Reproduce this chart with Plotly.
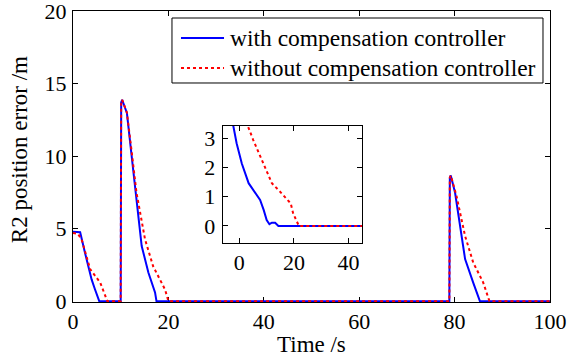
import plotly.graph_objects as go

# ---- main data ----
t_with = [0, 1.5, 2.5, 3.9, 4.6, 5.5, 10.0, 10.1, 10.3, 11.3, 12.3, 13.7, 14.4, 15.8, 17.2, 17.5,
          78.9, 79.0, 79.2, 80.1, 81.1, 82.2, 83.9, 85.0, 85.3, 100]
e_with = [4.79, 4.75, 3.35, 1.5, 0.82, 0, 0, 13.7, 13.88, 12.97, 10.0, 6.1, 3.8, 1.97, 0.6, 0,
          0, 8.5, 8.66, 7.47, 5.17, 2.9, 1.28, 0.36, 0, 0]
t_without = [0, 1.0, 1.8, 3.6, 5.7, 6.7, 7.2, 10.0, 10.1, 10.3, 11.3, 12.3, 13.3, 15.1, 16.8, 19.3, 20.0,
             78.9, 79.0, 79.2, 80.4, 82.2, 83.9, 86.0, 87.1, 87.3, 100]
e_without = [4.7, 4.65, 4.26, 2.2, 1.28, 0.36, 0, 0, 13.7, 13.88, 13.0, 10.3, 7.5, 4.26, 2.4, 0.8, 0,
             0, 8.5, 8.66, 7.24, 4.49, 2.66, 1.28, 0.25, 0, 0]

# ---- inset data ----
ti_with = [-6, -2.2, -1.0, 0.9, 3.4, 5.8, 7.6, 8.9, 10.0, 11.0, 11.9, 13.1, 14.3, 45]
ei_with = [4.6, 3.41, 2.82, 2.13, 1.46, 1.12, 0.89, 0.55, 0.2, 0.06, 0.11, 0.11, 0.0, 0.0]
ti_without = [-6, 3.1, 5.1, 10.0, 11.9, 14.9, 17.3, 18.8, 19.7, 21.0, 21.8, 45]
ei_without = [5.0, 3.41, 2.93, 1.91, 1.46, 1.17, 0.94, 0.77, 0.43, 0.15, 0.0, 0.0]

x_ticks = [0, 20, 40, 60, 80, 100]
y_ticks = [0, 5, 10, 15, 20]
xi_ticks = [0, 20, 40]
yi_ticks = [0, 1, 2, 3]

series_names = ["with compensation controller", "without compensation controller"]

FONT = "'Liberation Serif', 'Times New Roman', Times, serif"
BLUE = "#0000ff"
RED = "#ff0000"
styles = [dict(color=BLUE, width=2), dict(color=RED, width=2, dash="dot")]

fig = go.Figure()
fig.add_trace(go.Scatter(x=t_with, y=e_with, mode="lines", name=series_names[0], line=styles[0]))
fig.add_trace(go.Scatter(x=t_without, y=e_without, mode="lines", name=series_names[1], line=styles[1]))
fig.add_trace(go.Scatter(x=ti_with, y=ei_with, mode="lines", line=styles[0], xaxis="x2", yaxis="y2"))
fig.add_trace(go.Scatter(x=ti_without, y=ei_without, mode="lines", line=styles[1], xaxis="x2", yaxis="y2"))

axis_common = dict(showgrid=False, zeroline=False, showline=True, linecolor="black", linewidth=1,
                   mirror="ticks", ticks="inside", ticklen=5, tickcolor="black", layer="below traces",
                   ticklabeloverflow="allow",
                   tickfont=dict(family=FONT, size=22, color="black"))

# legend drawn as a boxed key in paper coordinates
leg_x0, leg_x1, leg_y0, leg_y1 = 0.2075, 0.9853, 0.7526, 0.9759
row_y = [0.9072, 0.8041]
line_x0, line_x1, text_x = 0.2264, 0.3166, 0.3245

shapes = [dict(type="rect", xref="paper", yref="paper", x0=leg_x0, x1=leg_x1, y0=leg_y0, y1=leg_y1,
               line=dict(color="black", width=1), fillcolor="white", layer="above")]
annotations = [
    dict(text="Time /s", x=0.5, y=-0.145, xref="paper", yref="paper", showarrow=False,
         xanchor="center", yanchor="middle", font=dict(family=FONT, size=23, color="black")),
    dict(text="R2 position error /m", x=-0.113, y=0.522, xref="paper", yref="paper",
         showarrow=False, textangle=-90, xanchor="center", yanchor="middle",
         font=dict(family=FONT, size=23, color="black")),
]
for name, st, ry in zip(series_names, styles, row_y):
    shapes.append(dict(type="line", xref="paper", yref="paper", x0=line_x0, x1=line_x1, y0=ry, y1=ry,
                       line=st, layer="above"))
    annotations.append(dict(text=name, x=text_x, y=ry, xref="paper", yref="paper", showarrow=False,
                            xanchor="left", yanchor="middle",
                            font=dict(family=FONT, size=23.5, color="black")))

fig.update_layout(
    template="none",
    width=574, height=358,
    margin=dict(l=73, r=24, t=11, b=56),
    paper_bgcolor="white", plot_bgcolor="white",
    font=dict(family=FONT, size=23, color="black"),
    showlegend=False,
    xaxis=dict(range=[0, 100], tickvals=x_ticks, domain=[0, 1], **axis_common),
    yaxis=dict(range=[-0.06, 20], tickvals=y_ticks, domain=[0, 1], ticklabelstandoff=1, **axis_common),
    xaxis2=dict(range=[-6.1, 44.9], tickvals=xi_ticks, domain=[0.3138, 0.6059], anchor="y2", **axis_common),
    yaxis2=dict(range=[-0.57, 3.41], tickvals=yi_ticks, domain=[0.2038, 0.6048], anchor="x2",
                ticklabelstandoff=2, **axis_common),
    shapes=shapes,
    annotations=annotations,
)

fig.write_html("out.html")
